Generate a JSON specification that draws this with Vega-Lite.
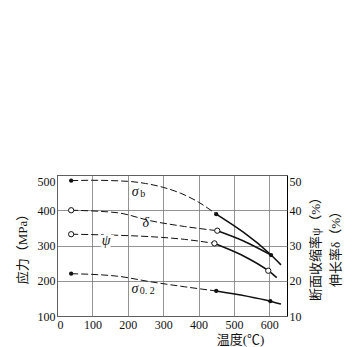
{
  "$schema": "https://vega.github.io/schema/vega-lite/v6.json",
  "width": 230,
  "height": 141,
  "autosize": {"type": "none"},
  "padding": {"left": 57, "top": 175, "right": 66, "bottom": 31},
  "background": "white",
  "config": {
    "view": {"stroke": "#000", "strokeWidth": 1},
    "font": "Liberation Serif, Noto Sans CJK SC",
    "axis": {
      "labelFont": "Liberation Serif",
      "labelFontSize": 12,
      "labelColor": "#111",
      "titleFont": "Liberation Serif, Noto Sans CJK SC",
      "titleFontSize": 13,
      "titleFontWeight": "normal",
      "titleColor": "#111",
      "ticks": false,
      "domain": false,
      "gridColor": "#777",
      "gridOpacity": 1,
      "gridWidth": 0.8
    }
  },
  "datasets": {
    "stress": [
      {"s": "σb", "p": "d", "t": 40, "v": 484, "m": "f"},
      {"s": "σb", "p": "d", "t": 100, "v": 485},
      {"s": "σb", "p": "d", "t": 200, "v": 482},
      {"s": "σb", "p": "d", "t": 250, "v": 476},
      {"s": "σb", "p": "d", "t": 300, "v": 465},
      {"s": "σb", "p": "d", "t": 350, "v": 448},
      {"s": "σb", "p": "d", "t": 400, "v": 423},
      {"s": "σb", "p": "d", "t": 450, "v": 389},
      {"s": "σb", "p": "s", "t": 450, "v": 389, "m": "f"},
      {"s": "σb", "p": "s", "t": 605, "v": 273, "m": "f"},
      {"s": "σb", "p": "s", "t": 633, "v": 245},
      {"s": "σ0.2", "p": "d", "t": 40, "v": 220, "m": "f"},
      {"s": "σ0.2", "p": "d", "t": 170, "v": 213},
      {"s": "σ0.2", "p": "d", "t": 265, "v": 197},
      {"s": "σ0.2", "p": "d", "t": 360, "v": 183},
      {"s": "σ0.2", "p": "d", "t": 450, "v": 171},
      {"s": "σ0.2", "p": "s", "t": 450, "v": 171, "m": "f"},
      {"s": "σ0.2", "p": "s", "t": 603, "v": 142, "m": "f"},
      {"s": "σ0.2", "p": "s", "t": 633, "v": 134}
    ],
    "pct": [
      {"s": "δ", "p": "d", "t": 40, "v": 40.0, "m": "o"},
      {"s": "δ", "p": "d", "t": 170, "v": 39.3},
      {"s": "δ", "p": "d", "t": 265, "v": 37.0},
      {"s": "δ", "p": "d", "t": 360, "v": 35.4},
      {"s": "δ", "p": "d", "t": 453, "v": 34.2},
      {"s": "δ", "p": "s", "t": 453, "v": 34.2, "m": "o"},
      {"s": "δ", "p": "s", "t": 527, "v": 31.3},
      {"s": "δ", "p": "s", "t": 605, "v": 27.3},
      {"s": "ψ", "p": "d", "t": 40, "v": 33.2, "m": "o"},
      {"s": "ψ", "p": "d", "t": 170, "v": 32.9},
      {"s": "ψ", "p": "d", "t": 265, "v": 32.5},
      {"s": "ψ", "p": "d", "t": 360, "v": 31.75},
      {"s": "ψ", "p": "d", "t": 445, "v": 30.6},
      {"s": "ψ", "p": "s", "t": 445, "v": 30.6, "m": "o"},
      {"s": "ψ", "p": "s", "t": 522, "v": 27.3},
      {"s": "ψ", "p": "s", "t": 597, "v": 22.85, "m": "o"},
      {"s": "ψ", "p": "s", "t": 621, "v": 20.9}
    ],
    "labels": [
      {"t": 221, "v": 45.2, "txt": "σ", "sub": "b", "halo": 0},
      {"t": 220, "v": 17.7, "txt": "σ", "sub": "0. 2", "halo": 0},
      {"t": 251, "v": 36.3, "txt": "δ", "sub": "", "halo": 0},
      {"t": 139, "v": 31.3, "txt": "ψ", "sub": "", "halo": 1}
    ]
  },
  "encoding": {
    "x": {
      "field": "t",
      "type": "quantitative",
      "scale": {"domain": [0, 650], "nice": false, "zero": false},
      "axis": {
        "values": [0, 100, 200, 300, 400, 500, 600],
        "grid": true,
        "labelPadding": 3,
        "title": "温度(℃)",
        "titleX": 183,
        "titleY": 23,
        "titleAlign": "center",
        "titleBaseline": "middle"
      }
    }
  },
  "layer": [
    {
      "encoding": {
        "y": {
          "field": "v",
          "type": "quantitative",
          "scale": {"domain": [100, 500], "nice": false, "zero": false},
          "axis": {
            "orient": "left",
            "values": [100, 200, 300, 400, 500],
            "grid": true,
            "labelPadding": 2,
            "labelOffset": {"condition": {"test": "datum.value == 500", "value": 6}, "value": 0},
            "title": "应力（MPa）",
            "titlePadding": 8
          }
        }
      },
      "layer": [
        {
          "data": {"name": "stress"},
          "transform": [{"filter": "datum.p == 'd'"}],
          "mark": {"type": "line", "interpolate": "monotone", "color": "#111", "strokeWidth": 1, "strokeDash": [7, 3]},
          "encoding": {"detail": {"field": "s"}}
        },
        {
          "data": {"name": "stress"},
          "transform": [{"filter": "datum.p == 's'"}],
          "mark": {"type": "line", "interpolate": "monotone", "color": "#111", "strokeWidth": 1.6},
          "encoding": {"detail": {"field": "s"}}
        },
        {
          "data": {"name": "stress"},
          "transform": [{"filter": "datum.m == 'f'"}],
          "mark": {"type": "point", "shape": "circle", "filled": true, "color": "#111", "size": 18, "opacity": 1}
        }
      ]
    },
    {
      "encoding": {
        "y": {
          "field": "v",
          "type": "quantitative",
          "scale": {"domain": [10, 50], "nice": false, "zero": false},
          "axis": {
            "orient": "right",
            "values": [10, 20, 30, 40, 50],
            "grid": false,
            "labelPadding": 2,
            "labelOffset": {"condition": {"test": "datum.value == 50", "value": 6}, "value": 0},
            "title": ["断面收缩率ψ（%）", "伸长率δ（%）"],
            "titleAngle": 270,
            "titlePadding": 1,
            "titleLineHeight": 20
          }
        }
      },
      "layer": [
        {
          "data": {"name": "pct"},
          "transform": [{"filter": "datum.p == 'd'"}],
          "mark": {"type": "line", "interpolate": "monotone", "color": "#111", "strokeWidth": 1, "strokeDash": [7, 3]},
          "encoding": {"detail": {"field": "s"}}
        },
        {
          "data": {"name": "pct"},
          "transform": [{"filter": "datum.p == 's'"}],
          "mark": {"type": "line", "interpolate": "monotone", "color": "#111", "strokeWidth": 1.6},
          "encoding": {"detail": {"field": "s"}}
        },
        {
          "data": {"name": "pct"},
          "transform": [{"filter": "datum.m == 'o'"}],
          "mark": {"type": "point", "shape": "circle", "filled": true, "fill": "white", "stroke": "#111", "strokeWidth": 1, "size": 28, "opacity": 1}
        },
        {
          "data": {"name": "labels"},
          "transform": [{"filter": "datum.halo == 1"}],
          "mark": {"type": "text", "font": "Liberation Serif", "fontStyle": "italic", "fontSize": 14, "align": "center", "baseline": "middle", "color": "white", "stroke": "white", "strokeWidth": 6},
          "encoding": {"text": {"field": "txt"}}
        },
        {
          "data": {"name": "labels"},
          "mark": {"type": "text", "font": "Liberation Serif", "fontStyle": "italic", "fontSize": 14, "align": "center", "baseline": "middle", "color": "#111"},
          "encoding": {"text": {"field": "txt"}}
        },
        {
          "data": {"name": "labels"},
          "mark": {"type": "text", "font": "Liberation Serif", "fontSize": 10, "align": "left", "baseline": "middle", "color": "#111", "dx": 5, "dy": 2},
          "encoding": {"text": {"field": "sub"}}
        }
      ]
    }
  ],
  "resolve": {"scale": {"y": "independent"}}
}
